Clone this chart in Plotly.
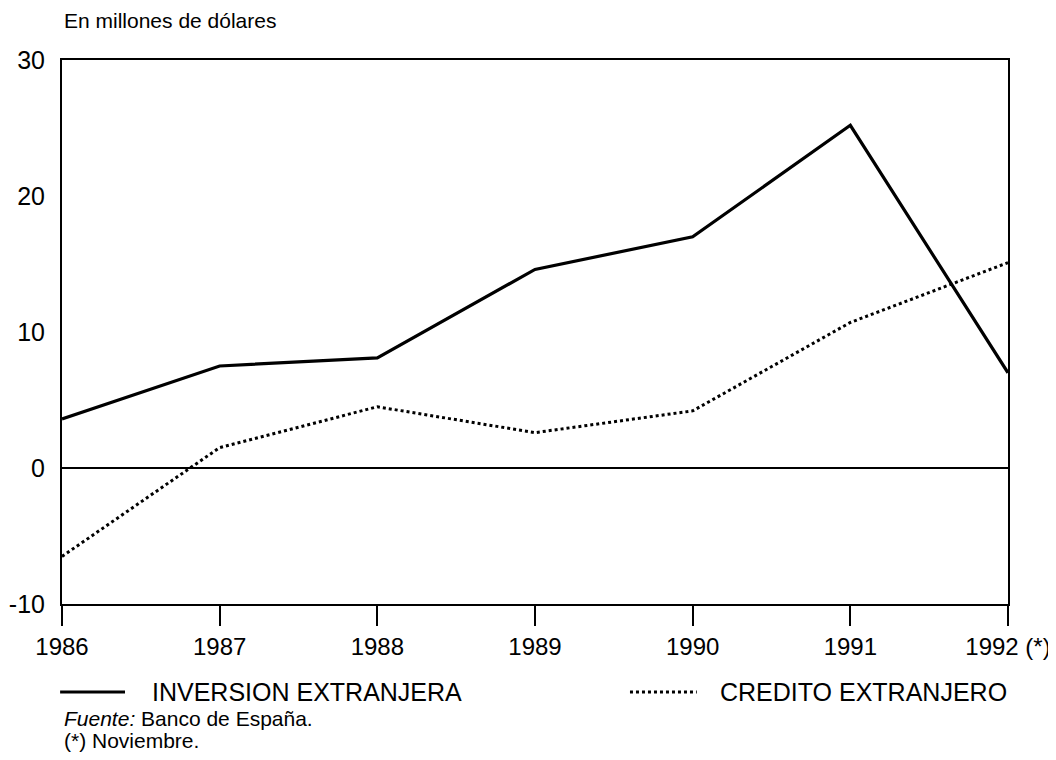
import plotly.graph_objects as go

years = [1986, 1987, 1988, 1989, 1990, 1991, 1992]
year_labels = ["1986", "1987", "1988", "1989", "1990", "1991", "1992 (*)"]
y_ticks = [-10, 0, 10, 20, 30]
y_labels = ["-10", "0", "10", "20", "30"]
inversion = [3.6, 7.5, 8.1, 14.6, 17.0, 25.2, 7.0]
credito = [-6.5, 1.5, 4.5, 2.6, 4.2, 10.7, 15.1]

FONT = "Liberation Sans, Arial, sans-serif"

fig = go.Figure()
fig.add_trace(go.Scatter(x=years, y=inversion, mode="lines", name="INVERSION EXTRANJERA",
                         line=dict(color="black", width=3.2)))
fig.add_trace(go.Scatter(x=years, y=credito, mode="lines", name="CREDITO EXTRANJERO",
                         line=dict(color="black", width=3, dash="dot")))

# page body has an 8px margin, so the margins are trimmed to land the plot at 62..1008 / 60..604
fig.update_layout(
    width=1056, height=760,
    margin=dict(l=54, r=56, t=52, b=164),
    plot_bgcolor="white", paper_bgcolor="white",
    font=dict(family=FONT, color="black", size=22),
    showlegend=False,
)

fig.update_xaxes(range=[1986, 1992], tickvals=years, ticktext=year_labels,
                 showline=True, linecolor="black", linewidth=2, mirror=True,
                 ticks="outside", ticklen=20, tickwidth=2, tickcolor="black",
                 showgrid=False, zeroline=False, tickfont=dict(size=24),
                 automargin=False)
fig.update_yaxes(range=[-10, 30], tickvals=y_ticks, ticktext=y_labels,
                 showline=True, linecolor="black", linewidth=2, mirror=True,
                 ticks="", ticklabelstandoff=10, showgrid=False,
                 zeroline=True, zerolinecolor="black", zerolinewidth=1.5,
                 tickfont=dict(size=25), automargin=False)

# legend drawn by hand: long line samples, wide spacing
fig.add_shape(type="line", xref="paper", yref="paper", x0=-0.002, x1=0.0666,
              y0=-0.1618, y1=-0.1618, line=dict(color="black", width=3))
fig.add_shape(type="line", xref="paper", yref="paper", x0=0.6004, x1=0.671,
              y0=-0.1618, y1=-0.1618, line=dict(color="black", width=3, dash="dot"))
fig.add_annotation(text="INVERSION EXTRANJERA", xref="paper", yref="paper",
                   x=0.093, y=-0.1618, xanchor="left", yanchor="middle",
                   showarrow=False, font=dict(size=25))
fig.add_annotation(text="CREDITO EXTRANJERO", xref="paper", yref="paper",
                   x=0.6934, y=-0.1618, xanchor="left", yanchor="middle",
                   showarrow=False, font=dict(size=25))

fig.add_annotation(text="En millones de dólares", xref="paper", yref="paper",
                   x=0, y=1, yshift=26, xanchor="left", yanchor="bottom",
                   showarrow=False, font=dict(size=21))
fig.add_annotation(text="<i>Fuente:</i> Banco de España.", xref="paper", yref="paper",
                   x=0, y=0, yshift=-114, xanchor="left", yanchor="middle",
                   showarrow=False, font=dict(size=21))
fig.add_annotation(text="(*) Noviembre.", xref="paper", yref="paper",
                   x=0, y=0, yshift=-136, xanchor="left", yanchor="middle",
                   showarrow=False, font=dict(size=21))

fig.write_html("out.html")
